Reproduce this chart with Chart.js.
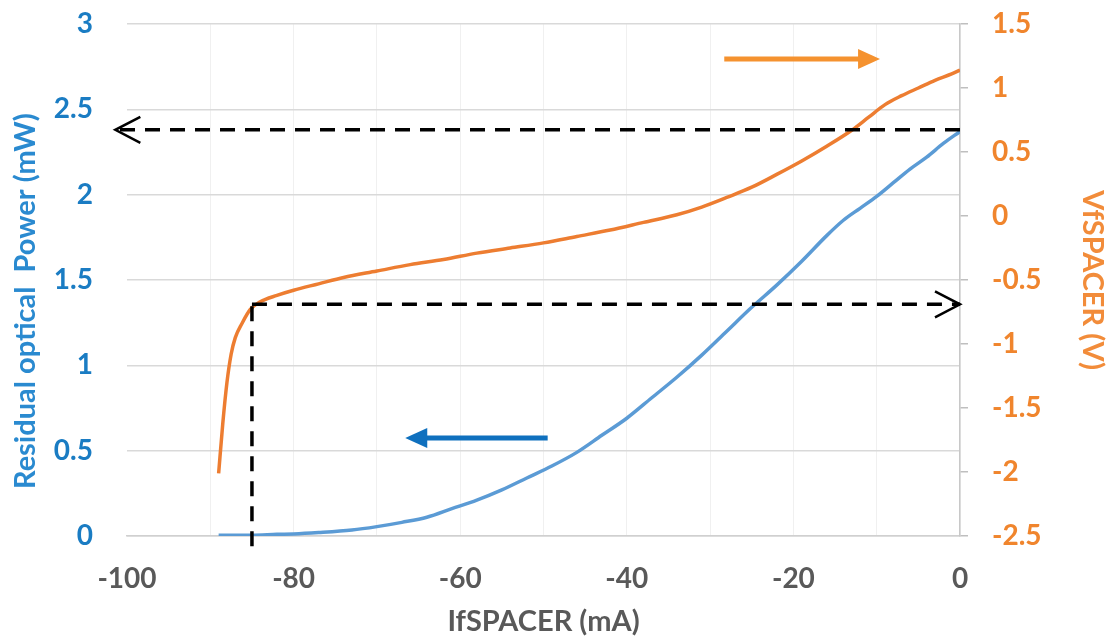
<!DOCTYPE html>
<html>
<head>
<meta charset="utf-8">
<script src="https://cdn.jsdelivr.net/npm/chart.js@4.4.1/dist/chart.umd.min.js"></script>
<style>
  body { margin: 0; background: #fff; }
  #wrap { width: 1110px; height: 643px; }
</style>
</head>
<body>
<div id="wrap"><canvas id="myChart"></canvas></div>
<script>
// residual optical power (left axis, mW) vs IfSPACER (mA)
const powerCurrent = [-89, -87, -85, -82, -80, -77, -73, -70, -67, -64, -61, -58, -55, -52, -49, -46, -43, -40, -37, -34, -31, -28, -25, -22, -19, -16, -14, -12, -10, -8, -6, -4, -2, 0];
const powerValues = [0.005, 0.005, 0.005, 0.01, 0.012, 0.02, 0.035, 0.055, 0.08, 0.11, 0.16, 0.21, 0.27, 0.34, 0.41, 0.49, 0.59, 0.69, 0.81, 0.93, 1.06, 1.2, 1.34, 1.47, 1.61, 1.76, 1.85, 1.92, 1.99, 2.07, 2.15, 2.22, 2.3, 2.37];

// VfSPACER (right axis, V) vs IfSPACER (mA)
const voltCurrent = [-89, -88.5, -88, -87.5, -87, -86.2, -85.2, -84, -82, -80, -77, -74, -70, -66, -62, -58, -54, -50, -46, -42, -38, -34, -31, -28, -25, -22, -19, -16, -13, -11, -9, -7, -5, -3, -1, 0];
const voltValues = [-2.01, -1.62, -1.3, -1.08, -0.95, -0.84, -0.73, -0.67, -0.62, -0.58, -0.53, -0.48, -0.43, -0.38, -0.34, -0.29, -0.25, -0.21, -0.16, -0.11, -0.05, 0.01, 0.07, 0.145, 0.225, 0.325, 0.43, 0.545, 0.67, 0.77, 0.87, 0.94, 1.0, 1.06, 1.11, 1.14];

// dashed guide lines (data units)
const powerGuideX = [0, -101.4];   // at left-axis value below
const powerGuideY = 2.38;
const voltGuideX = [-85, 0];       // at right-axis value below
const voltGuideV = -0.69;
const kneeX = -85;
const kneeBottomP = -0.06;         // left axis
const kneeTopV = -0.69;            // right axis

// direction arrows: [tail x, tip x], y value in left-axis units
const voltArrowX = [-28.3, -9.6];
const voltArrowP = 2.795;
const powerArrowX = [-49.5, -66.6];
const powerArrowP = 0.574;

const xTicksMin = -100, xTicksMax = 0;

const blueTick = "#1a7cc3";
const orangeTick = "#f0852d";
const greyText = "#595959";
const tickFont = { family: "Lato", size: 28, weight: "bold" };
const titleFont = { family: "Lato", size: 29, weight: "bold" };

const series = [
  {
    label: "Residual optical power",
    data: powerCurrent.map((c, i) => ({ x: c, y: powerValues[i] })),
    borderColor: "#5b9bd5",
    borderWidth: 3.5,
    yAxisID: "yPower",
  },
  {
    label: "VfSPACER",
    data: voltCurrent.map((c, i) => ({ x: c, y: voltValues[i] })),
    borderColor: "#ed7d31",
    borderWidth: 3.5,
    yAxisID: "yVolt",
  },
];

function drawChevron(ctx, tipX, tipY, dir) {
  ctx.beginPath();
  ctx.moveTo(tipX - dir * 25, tipY - 13);
  ctx.lineTo(tipX, tipY);
  ctx.lineTo(tipX - dir * 25, tipY + 13);
  ctx.stroke();
}

function drawArrow(ctx, x1, x2, y, color) {
  const dir = Math.sign(x2 - x1);
  ctx.strokeStyle = color;
  ctx.fillStyle = color;
  ctx.lineWidth = 5;
  ctx.beginPath();
  ctx.moveTo(x1, y);
  ctx.lineTo(x2 - dir * 18, y);
  ctx.stroke();
  ctx.beginPath();
  ctx.moveTo(x2, y);
  ctx.lineTo(x2 - dir * 22, y - 10);
  ctx.lineTo(x2 - dir * 22, y + 10);
  ctx.closePath();
  ctx.fill();
}

const guidePlugin = {
  id: "guides",
  afterDatasetsDraw(chart) {
    const { ctx, scales } = chart;
    const x = scales.x, yP = scales.yPower, yV = scales.yVolt;
    ctx.save();
    ctx.strokeStyle = "#000";
    ctx.lineWidth = 3.5;
    ctx.setLineDash([15, 10]);

    // upper guide, toward the power axis
    const gy = yP.getPixelForValue(powerGuideY);
    ctx.beginPath();
    ctx.moveTo(x.getPixelForValue(powerGuideX[0]), gy);
    ctx.lineTo(x.getPixelForValue(powerGuideX[1]), gy);
    ctx.stroke();

    // knee guide, toward the voltage axis
    const vy = yV.getPixelForValue(voltGuideV);
    ctx.beginPath();
    ctx.moveTo(x.getPixelForValue(voltGuideX[0]), vy);
    ctx.lineTo(x.getPixelForValue(voltGuideX[1]), vy);
    ctx.stroke();

    // vertical at the knee
    const kx = x.getPixelForValue(kneeX);
    ctx.beginPath();
    ctx.moveTo(kx, yP.getPixelForValue(kneeBottomP));
    ctx.lineTo(kx, yV.getPixelForValue(kneeTopV));
    ctx.stroke();

    ctx.setLineDash([]);
    ctx.lineWidth = 2.5;
    drawChevron(ctx, x.getPixelForValue(powerGuideX[1]), gy, -1);
    drawChevron(ctx, x.getPixelForValue(voltGuideX[1]), vy, 1);

    drawArrow(ctx, x.getPixelForValue(voltArrowX[0]), x.getPixelForValue(voltArrowX[1]),
      yP.getPixelForValue(voltArrowP), "#f5922f");
    drawArrow(ctx, x.getPixelForValue(powerArrowX[0]), x.getPixelForValue(powerArrowX[1]),
      yP.getPixelForValue(powerArrowP), "#0f70be");
    ctx.restore();
  },
};

// keep the plot box where the reference has it
function fitSide(width) {
  return (scale) => {
    scale.width = width;
    scale.paddingTop = 24;
    scale.paddingBottom = 0;
  };
}

const ctx = document.getElementById("myChart").getContext("2d");

new Chart(ctx, {
  type: "line",
  data: { datasets: series },
  plugins: [guidePlugin],
  options: {
    responsive: true,
    maintainAspectRatio: false,
    animation: false,
    layout: { padding: { top: 0, left: 0, right: 0, bottom: 0 } },
    elements: {
      point: { radius: 0 },
      line: { tension: 0.4, cubicInterpolationMode: "monotone" },
    },
    plugins: {
      legend: { display: false },
      tooltip: { enabled: false },
    },
    scales: {
      x: {
        type: "linear",
        min: xTicksMin,
        max: xTicksMax,
        afterFit: (scale) => { scale.height = 107; },
        ticks: {
          stepSize: 10,
          autoSkip: false,
          maxRotation: 0,
          padding: 26,
          color: greyText,
          font: tickFont,
          callback: (v) => (v % 20 === 0 ? String(v) : ""),
        },
        grid: {
          color: (c) => (c.tick && c.tick.value === xTicksMin ? "rgba(0,0,0,0)" : "#f0f0f0"),
          lineWidth: 1,
          drawTicks: false,
        },
        border: { display: true, color: "#d0d0d0", width: 1.5 },
        title: {
          display: true,
          text: "IfSPACER (mA)",
          color: greyText,
          font: titleFont,
          padding: { top: 0, bottom: 4 },
        },
      },
      yPower: {
        type: "linear",
        position: "left",
        min: 0,
        max: 3,
        afterFit: fitSide(127),
        ticks: {
          stepSize: 0.5,
          padding: 34,
          color: blueTick,
          font: tickFont,
          callback: (v) => String(v),
        },
        grid: { color: "#d9d9d9", lineWidth: 1.5, drawTicks: false },
        border: { display: false },
        title: {
          display: true,
          text: "Residual optical  Power (mW)      ",
          color: "#2a8ad0",
          font: titleFont,
          padding: { top: 8, bottom: 0 },
        },
      },
      yVolt: {
        type: "linear",
        position: "right",
        min: -2.5,
        max: 1.5,
        afterFit: fitSide(150),
        ticks: {
          stepSize: 0.5,
          padding: 24,
          color: orangeTick,
          font: tickFont,
          callback: (v) => String(v),
        },
        grid: {
          drawOnChartArea: false,
          drawTicks: true,
          tickLength: 8,
          tickColor: "#bfbfbf",
          lineWidth: 1.5,
        },
        border: { display: true, color: "#c8c8c8", width: 1.5 },
        title: {
          display: true,
          text: "VfSPACER (V)",
          color: "#f28c3a",
          font: titleFont,
          padding: { top: 0, bottom: 0 },
        },
      },
    },
  },
});
</script>
</body>
</html>
